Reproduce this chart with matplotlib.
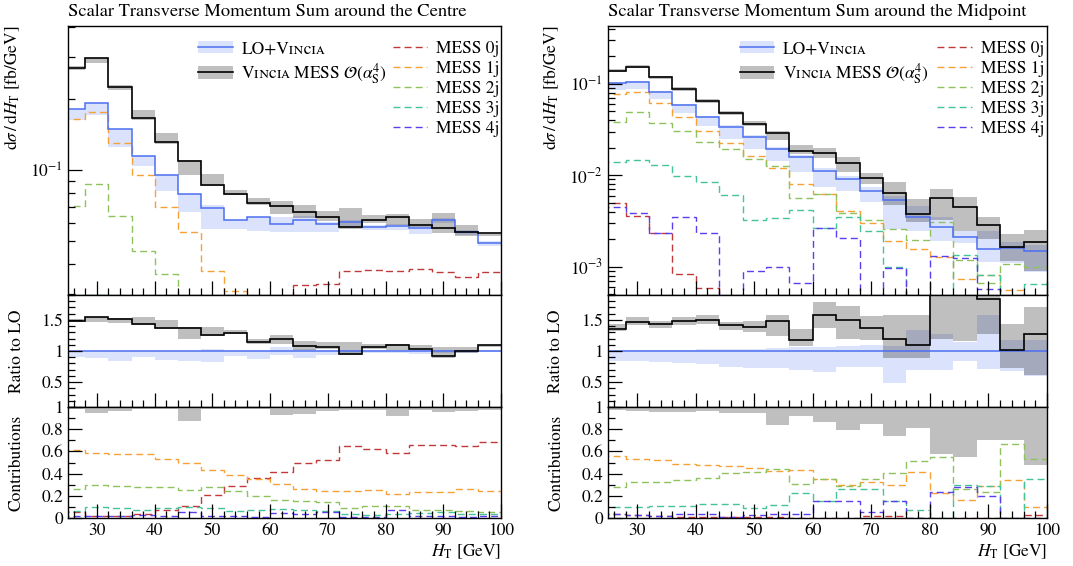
import numpy as np
import matplotlib
matplotlib.use("Agg")
import matplotlib.pyplot as plt
from matplotlib import ticker
from matplotlib.patches import Patch
from matplotlib.lines import Line2D

plt.rcParams['font.family'] = ['STIXGeneral', 'DejaVu Serif', 'DejaVu Sans']
plt.rcParams['mathtext.fontset'] = 'stix'
plt.rcParams['font.size'] = 12.5

# bin edges in H_T [GeV]
edges = [24, 28, 32, 36, 40, 44, 48, 52, 56, 60, 64, 68, 72, 76, 80, 84, 88, 92, 96, 100]

# ---- Centre: cross sections [fb/GeV]
lo_c = [0.181, 0.192, 0.149, 0.115, 0.0956, 0.0795, 0.0689, 0.0615, 0.0636, 0.059,
        0.0615, 0.059, 0.0605, 0.0577, 0.058, 0.0567, 0.0615, 0.0546, 0.049]
mess_c = [0.268, 0.298, 0.225, 0.165, 0.131, 0.109, 0.0867, 0.0795, 0.0728, 0.0705,
          0.0667, 0.0631, 0.0577, 0.0615, 0.0636, 0.0586, 0.0567, 0.0546, 0.054]
# uncertainty bands, relative to LO central value
lo_dn_c = [0.90, 0.89, 0.84, 0.90, 0.85, 0.84, 0.82, 0.92, 0.87, 0.93,
           0.89, 0.93, 0.95, 0.97, 0.96, 0.95, 0.97, 0.97, 0.98]
lo_up_c = [1.0, 1.0, 1.0, 1.0, 1.0, 1.0, 1.03, 1.0, 1.0, 1.07,
           1.04, 1.02, 1.02, 1.02, 1.02, 1.02, 1.02, 1.02, 1.02]
mess_dn_c = [1.46, 1.47, 1.455, 1.41, 1.35, 1.20, 1.24, 1.27, 1.12, 1.11,
             1.02, 1.03, 0.93, 1.035, 1.01, 1.01, 0.88, 0.965, 1.07]
mess_up_c = [1.51, 1.55, 1.53, 1.55, 1.50, 1.38, 1.39, 1.34, 1.20, 1.26,
             1.155, 1.14, 1.14, 1.12, 1.12, 1.10, 1.07, 1.07, 1.10]
# jet multiplicity contributions (fraction of MESS)
frac_c = [
    [0.05, 0.02, 0.02, 0.04, 0.07, 0.11, 0.21, 0.29, 0.358, 0.418,
     0.493, 0.522, 0.648, 0.618, 0.588, 0.654, 0.654, 0.65, 0.687],
    [0.612, 0.59, 0.58, 0.576, 0.531, 0.50, 0.433, 0.388, 0.352, 0.304,
     0.26, 0.242, 0.242, 0.254, 0.215, 0.233, 0.233, 0.26, 0.239],
    [0.263, 0.293, 0.284, 0.275, 0.278, 0.254, 0.275, 0.239, 0.194, 0.164,
     0.155, 0.143, 0.09, 0.11, 0.11, 0.075, 0.069, 0.066, 0.05],
    [0.066, 0.10, 0.09, 0.075, 0.09, 0.10, 0.09, 0.066, 0.069, 0.08,
     0.075, 0.06, 0.04, 0.03, 0.036, 0.045, 0.05, 0.04, 0.04],
    [0.015, 0.015, 0.02, 0.03, 0.015, 0.05, 0.015, 0.015, 0.005, 0.045,
     0.04, 0.05, 0.01, 0.005, 0.075, 0.02, 0.015, 0.01, 0.015],
]

# ---- Midpoint
lo_m = [0.102, 0.1048, 0.0825, 0.0593, 0.0433, 0.0341, 0.0263, 0.0194, 0.0157, 0.0112,
        0.00907, 0.00681, 0.00541, 0.00349, 0.00273, 0.00213, 0.00157, 0.0016, 0.00147]
mess_m = [0.138, 0.154, 0.118, 0.0883, 0.0649, 0.0481, 0.0363, 0.0287, 0.0185, 0.0177,
          0.0136, 0.00936, 0.00644, 0.0038, 0.00565, 0.0045, 0.00287, 0.00163, 0.00187]
lo_dn_m = [0.834, 0.845, 0.83, 0.80, 0.79, 0.74, 0.73, 0.73, 0.70, 0.67,
           0.74, 0.75, 0.48, 0.70, 0.70, 0.845, 0.71, 0.68, 0.60]
lo_up_m = [1.016, 1.016, 1.02, 1.02, 1.025, 1.03, 1.04, 1.05, 1.06, 1.07,
           1.085, 1.10, 1.085, 1.33, 1.27, 1.15, 1.58, 1.17, 1.17]
mess_dn_m = [1.32, 1.42, 1.37, 1.42, 1.44, 1.34, 1.31, 1.24, 1.08, 1.37,
             1.19, 1.17, 0.88, 0.88, 1.19, 1.16, 1.28, 0.72, 0.61]
mess_up_m = [1.43, 1.55, 1.49, 1.55, 1.58, 1.47, 1.48, 1.58, 1.35, 1.79,
             1.73, 1.57, 1.58, 1.58, 2.6, 2.75, 2.2, 1.43, 1.71]
frac_m = [
    [0.036, 0.023, 0.02, 0.0095, 0.009, 0.005, 0.01, 0.005, 0.0, 0.0,
     0.0, 0.02, 0.015, 0.0, 0.0, 0.0, 0.0, 0.0, 0.024],
    [0.555, 0.53, 0.525, 0.49, 0.475, 0.469, 0.448, 0.42, 0.433, 0.352,
     0.30, 0.32, 0.30, 0.41, 0.224, 0.164, 0.284, 0.343, 0.096],
    [0.28, 0.32, 0.32, 0.343, 0.36, 0.403, 0.418, 0.442, 0.304, 0.35,
     0.284, 0.35, 0.403, 0.516, 0.552, 0.263, 0.233, 0.663, 0.53],
    [0.10, 0.095, 0.11, 0.11, 0.13, 0.127, 0.09, 0.12, 0.224, 0.15,
     0.26, 0.26, 0.155, 0.075, 0.0, 0.30, 0.284, 0.0, 0.35],
    [0.033, 0.025, 0.02, 0.04, 0.036, 0.005, 0.025, 0.035, 0.036, 0.15,
     0.15, 0.05, 0.15, 0.0, 0.23, 0.28, 0.20, 0.0, 0.0],
]

titles = ["Scalar Transverse Momentum Sum around the Centre",
          "Scalar Transverse Momentum Sum around the Midpoint"]
jet_labels = ["MESS 0j", "MESS 1j", "MESS 2j", "MESS 3j", "MESS 4j"]
jet_colors = ['#c03838', '#f7a033', '#8ec25c', '#45c497', '#5a3ff0']
lo_color = '#4c6ef0'
vincia = "V\u026a\u0274c\u026a\u1d00"   # small-caps look


def style_axis(ax):
    ax.tick_params(which='both', direction='in', top=False, right=False, width=0.9,
                   labelsize=12.5)
    ax.tick_params(which='major', length=10)
    ax.tick_params(which='minor', length=5)
    for s in ax.spines.values():
        s.set_linewidth(1.0)
    ax.set_xlim(25, 100)
    ax.xaxis.set_major_locator(ticker.MultipleLocator(10))
    ax.xaxis.set_minor_locator(ticker.MultipleLocator(2))


def panel(rect_x, width, title, lo, mess, lo_dn, lo_up, mess_dn, mess_up, frac, ylim):
    lo = np.array(lo)
    mess = np.array(mess)
    ax1 = fig.add_axes([rect_x, 0.4788, width, 0.4753])
    ax2 = fig.add_axes([rect_x, 0.2809, width, 0.1979])
    ax3 = fig.add_axes([rect_x, 0.0848, width, 0.1961])

    ## main panel
    ax1.stairs(lo * np.array(lo_up), edges, baseline=lo * np.array(lo_dn), fill=True,
               color=lo_color, alpha=0.2, lw=0)
    ax1.stairs(lo * np.array(mess_up), edges, baseline=lo * np.array(mess_dn), fill=True,
               color='black', alpha=0.25, lw=0)
    for f, c in zip(frac, jet_colors):
        ax1.stairs(np.array(f) * mess, edges, baseline=None, color=c, lw=1.0,
                   linestyle=(0, (5, 3)))
    ax1.stairs(lo, edges, baseline=None, color=lo_color, lw=1.1)
    ax1.stairs(mess, edges, baseline=None, color='black', lw=1.2)
    ax1.set_yscale('log')
    ax1.set_ylim(*ylim)
    ax1.yaxis.set_minor_formatter(ticker.NullFormatter())
    style_axis(ax1)
    ax1.set_xticklabels([])
    ax1.set_title(title, loc='left', fontsize=13.3, pad=7)
    ax1.set_ylabel(r'$\mathrm{d}\sigma\,/\,\mathrm{d}H_\mathrm{T}$ [fb/GeV]', loc='top')
    ax1.yaxis.set_label_coords(-0.106, 1.0)

    ## legends
    h1 = [(Patch(color=lo_color, alpha=0.2, lw=0), Line2D([], [], color=lo_color, lw=1.1)),
          (Patch(color='black', alpha=0.25, lw=0), Line2D([], [], color='black', lw=1.2))]
    l1 = ["LO+" + vincia, vincia + r" MESS $\mathcal{O}(\alpha_\mathrm{S}^4)$"]
    leg1 = ax1.legend(h1, l1, loc='upper left', bbox_to_anchor=(0.30, 0.945), frameon=False,
                      handlelength=2.0, handleheight=0.75, handletextpad=0.5,
                      borderaxespad=0, borderpad=0, labelspacing=0.22)
    ax1.add_artist(leg1)
    h2 = [Line2D([], [], color=c, lw=1.0, linestyle=(0, (5, 3))) for c in jet_colors]
    ax1.legend(h2, jet_labels, loc='upper left', bbox_to_anchor=(0.75, 0.945), frameon=False,
               handlelength=2.0, handletextpad=0.5, borderaxespad=0, borderpad=0,
               labelspacing=0.22)

    ## ratio panel
    ones = np.ones(len(lo))
    ax2.stairs(lo_up, edges, baseline=lo_dn, fill=True, color=lo_color, alpha=0.2, lw=0)
    ax2.stairs(mess_up, edges, baseline=mess_dn, fill=True, color='black', alpha=0.25, lw=0)
    ax2.stairs(ones, edges, baseline=None, color=lo_color, lw=1.1)
    ax2.stairs(mess / lo, edges, baseline=None, color='black', lw=1.2)
    ax2.set_ylim(0.1, 1.9)
    ax2.yaxis.set_major_locator(ticker.FixedLocator([0.5, 1.0, 1.5]))
    ax2.yaxis.set_minor_locator(ticker.MultipleLocator(0.1))
    ax2.yaxis.set_major_formatter(ticker.FuncFormatter(lambda v, p: '%g' % v))
    style_axis(ax2)
    ax2.set_xticklabels([])
    ax2.set_ylabel("Ratio to LO")
    ax2.yaxis.set_label_coords(-0.10, 0.5)

    ## contributions panel
    low = lo * np.array(mess_dn) / mess
    ax3.stairs(ones, edges, baseline=low, fill=True, color='black', alpha=0.25, lw=0)
    for f, c in zip(frac, jet_colors):
        ax3.stairs(f, edges, baseline=None, color=c, lw=1.0, linestyle=(0, (5, 3)))
    ax3.set_ylim(0, 1)
    ax3.yaxis.set_major_locator(ticker.MultipleLocator(0.2))
    ax3.yaxis.set_minor_locator(ticker.MultipleLocator(0.1))
    ax3.yaxis.set_major_formatter(ticker.FuncFormatter(lambda v, p: '%g' % v))
    style_axis(ax3)
    ax3.set_ylabel("Contributions")
    ax3.yaxis.set_label_coords(-0.10, 0.5)
    ax3.set_xlabel(r'$H_\mathrm{T}$ [GeV]', loc='right', labelpad=3)


fig = plt.figure(figsize=(10.73, 5.66), dpi=100)
panel(0.0634, 0.4035, titles[0], lo_c, mess_c, lo_dn_c, lo_up_c, mess_dn_c, mess_up_c,
      frac_c, (0.0297, 0.405))
panel(0.5666, 0.4091, titles[1], lo_m, mess_m, lo_dn_m, lo_up_m, mess_dn_m, mess_up_m,
      frac_m, (4.9e-4, 0.43))

fig.savefig("out.png", dpi=100)
